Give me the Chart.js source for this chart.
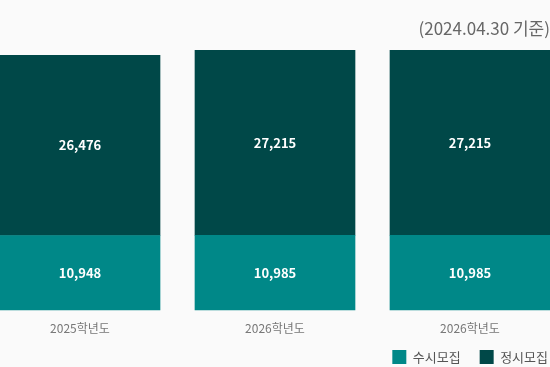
<!DOCTYPE html>
<html>
<head>
<meta charset="utf-8">
<script src="https://cdn.jsdelivr.net/npm/chart.js@4/dist/chart.umd.min.js"></script>
<style>
  html, body { margin: 0; padding: 0; background: #fafafa; }
  #wrap { width: 550px; height: 367px; position: relative; }
</style>
</head>
<body>
<div id="wrap"><canvas id="c"></canvas></div>
<script>
const categories = ['2025학년도', '2026학년도', '2026학년도'];
const susiValues = [10948, 10985, 10985];
const jeongsiValues = [26476, 27215, 27215];
const seriesNames = ['수시모집', '정시모집'];
const titleText = '(2024.04.30 기준)';

const FONT = '"Noto Sans CJK KR", "Noto Sans", sans-serif';

const toPoints = arr => arr.map((v, i) => ({ x: i, y: v }));

const bgPlugin = {
  id: 'bg',
  beforeDraw(chart) {
    const ctx = chart.ctx;
    ctx.save();
    ctx.fillStyle = '#fafafa';
    ctx.fillRect(0, 0, chart.width, chart.height);
    ctx.restore();
  }
};

// nudge the legend block so its last item ends at the right edge
const legendShift = {
  id: 'legendShift',
  afterLayout(chart) {
    const lg = chart.legend;
    if (lg) {
      lg.left += 17;
      lg.right += 17;
      lg.top -= 4;
      lg.bottom -= 4;
    }
  }
};

const valueLabels = {
  id: 'valueLabels',
  afterDatasetsDraw(chart) {
    const ctx = chart.ctx;
    ctx.save();
    ctx.font = 'bold 13px ' + FONT;
    ctx.fillStyle = '#ffffff';
    ctx.textAlign = 'center';
    ctx.textBaseline = 'middle';
    chart.data.datasets.forEach((ds, di) => {
      const meta = chart.getDatasetMeta(di);
      meta.data.forEach((el, i) => {
        const v = ds.data[i].y;
        const y = (el.y + el.base) / 2;
        ctx.fillText(v.toLocaleString('en-US'), el.x, y);
      });
    });
    ctx.restore();
  }
};

const step = 195;
const yMax = 38200;
const yMin = -yMax * 11 / 260;
new Chart(document.getElementById('c'), {
  type: 'bar',
  data: {
    datasets: [
      { label: seriesNames[0], data: toPoints(susiValues), backgroundColor: '#008888', borderWidth: 0, barThickness: 160 },
      { label: seriesNames[1], data: toPoints(jeongsiValues), backgroundColor: '#004848', borderWidth: 0, barThickness: 160 }
    ]
  },
  options: {
    responsive: true,
    maintainAspectRatio: false,
    animation: false,
    layout: { padding: { left: 0, right: 0, top: 0, bottom: -11 } },
    scales: {
      x: {
        type: 'linear',
        bounds: 'data',
        offset: false,
        stacked: true,
        min: -80 / step,
        max: 470 / step,
        afterBuildTicks: (scale) => { scale.ticks = categories.map((_, i) => ({ value: i })); },
        grid: { display: false, drawTicks: false, offset: false },
        border: { display: false },
        ticks: {
          autoSkip: false,
          maxRotation: 0,
          minRotation: 0,
          padding: 0,
          color: '#777',
          font: { family: FONT, size: 12, lineHeight: 14 / 12 },
          callback: (v) => (categories[Math.round(v)] !== undefined) ? categories[Math.round(v)] : ''
        }
      },
      y: {
        stacked: true,
        display: false,
        min: yMin,
        max: yMax
      }
    },
    plugins: {
      title: {
        display: true,
        text: titleText,
        align: 'end',
        color: '#666',
        font: { family: FONT, size: 17, weight: 'normal' },
        padding: { top: 18, bottom: 11.6 }
      },
      legend: {
        position: 'bottom',
        align: 'end',
        labels: {
          boxWidth: 14,
          boxHeight: 14,
          padding: 19,
          color: '#555',
          font: { family: FONT, size: 13 }
        }
      },
      tooltip: { enabled: false }
    }
  },
  plugins: [bgPlugin, legendShift, valueLabels]
});
</script>
</body>
</html>
